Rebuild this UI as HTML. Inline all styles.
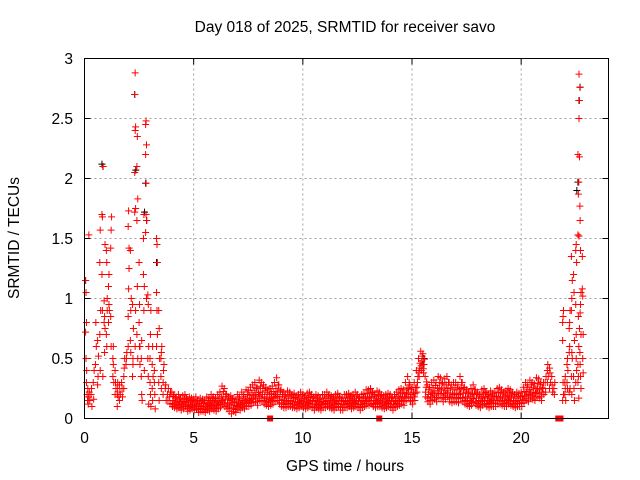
<!DOCTYPE html>
<html><head><meta charset="utf-8"><style>
body{margin:0;background:#fff}
svg{display:block;font-family:"Liberation Sans",sans-serif}
</style></head><body>
<svg id="chart" width="640" height="480" xmlns="http://www.w3.org/2000/svg">
<text x="345" y="32" font-size="15.5" text-anchor="middle">Day 018 of 2025, SRMTID for receiver savo</text>
<text x="345" y="471" font-size="15.5" text-anchor="middle">GPS time / hours</text>
<text x="19" y="238" font-size="15.5" text-anchor="middle" transform="rotate(-90 19 238)">SRMTID / TECUs</text>
<g id="grid"></g>
<g id="ticks"></g>
<g id="black"></g>
<g id="red"></g>
<rect x="84.5" y="58.5" width="524" height="360" fill="none" stroke="#000" stroke-width="1"/>
</svg>
<script>
const xTicks=[0,5,10,15,20];
const yTicks=[0,0.5,1,1.5,2,2.5,3];
const yTickLabels=["0","0.5","1","1.5","2","2.5","3"];
const baseStart=4.0, baseStep=0.1;
const baseHi=[.22,.2,.18,.2,.17,.19,.2,.16,.18,.17,
.16,.18,.15,.17,.16,.15,.18,.17,.2,.18,
.17,.2,.22,.27,.25,.2,.18,.19,.17,.16,
.2,.18,.22,.2,.24,.23,.26,.28,.3,.26,
.32,.3,.28,.26,.24,.25,.27,.3,.34,.28,
.24,.22,.2,.23,.22,.2,.21,.19,.2,.22,
.2,.19,.21,.22,.2,.18,.2,.19,.17,.2,
.2,.22,.2,.19,.18,.2,.21,.18,.17,.2,
.2,.21,.19,.2,.22,.2,.18,.2,.21,.24,
.24,.25,.22,.2,.23,.22,.2,.19,.2,.21,
.2,.18,.2,.22,.24,.25,.24,.3,.35,.28,
.26,.3,.4,.5,.56,.54,.35,.28,.26,.3,
.32,.3,.35,.34,.3,.33,.35,.3,.28,.3,
.3,.28,.35,.3,.26,.24,.22,.25,.28,.24,
.22,.2,.24,.25,.22,.2,.23,.21,.22,.25,
.26,.24,.22,.23,.25,.24,.22,.2,.22,.21,
.22,.26,.3,.28,.32,.3,.29,.34,.33,.3];
const baseMid=[.15,.14,.13,.14,.12,.13,.14,.11,.12,.12,
.11,.12,.1,.11,.1,.1,.12,.11,.13,.12,
.11,.13,.14,.18,.16,.13,.12,.13,.11,.1,
.13,.12,.14,.13,.16,.15,.17,.19,.2,.17,
.22,.2,.18,.17,.16,.17,.18,.2,.22,.18,
.16,.15,.14,.15,.15,.14,.14,.13,.14,.15,
.14,.13,.14,.15,.14,.12,.14,.13,.12,.14,
.14,.15,.14,.13,.12,.14,.15,.12,.12,.14,
.14,.15,.13,.14,.15,.14,.12,.14,.15,.17,
.17,.18,.15,.14,.16,.15,.14,.13,.14,.15,
.14,.12,.14,.15,.17,.18,.17,.21,.25,.2,
.18,.21,.3,.42,.48,.45,.26,.2,.18,.21,
.23,.21,.25,.24,.21,.23,.25,.21,.2,.21,
.21,.2,.25,.21,.18,.17,.15,.17,.2,.17,
.15,.14,.17,.18,.15,.14,.16,.15,.15,.18,
.18,.17,.15,.16,.18,.17,.15,.14,.15,.15,
.15,.19,.22,.2,.24,.22,.21,.25,.24,.22];
const baseLo=[.1,.09,.08,.09,.07,.08,.1,.06,.07,.08,
.07,.08,.05,.06,.06,.05,.07,.06,.08,.07,
.06,.08,.09,.12,.1,.08,.06,.04,.06,.05,
.08,.07,.09,.08,.1,.1,.11,.13,.14,.11,
.15,.14,.12,.11,.1,.11,.12,.14,.15,.12,
.1,.09,.09,.1,.1,.09,.09,.08,.09,.1,
.09,.08,.09,.1,.09,.07,.09,.08,.07,.09,
.09,.1,.09,.08,.07,.09,.1,.07,.07,.09,
.09,.1,.08,.09,.1,.09,.07,.09,.1,.11,
.11,.12,.1,.09,.1,.1,.09,.08,.09,.1,
.09,.07,.09,.1,.11,.12,.11,.15,.18,.14,
.12,.15,.22,.35,.4,.38,.18,.14,.12,.15,
.16,.14,.17,.17,.14,.16,.18,.14,.13,.14,
.14,.13,.17,.14,.12,.11,.1,.11,.13,.11,
.1,.09,.11,.12,.1,.09,.1,.1,.1,.12,
.12,.11,.1,.1,.12,.11,.1,.09,.1,.1,
.1,.13,.15,.14,.17,.16,.15,.18,.17,.15];
const burstHours=[0.05,0.1,0.15,0.2,0.3,0.4,0.5,0.6,0.7,0.8,0.9,1.0,1.1,1.2,1.3,1.4,1.5,1.6,1.7,1.8,1.9,2.0,2.1,2.2,2.3,2.4,2.5,2.6,2.7,2.8,2.9,3.0,3.1,3.2,3.3,3.4,3.5,3.6,3.7,3.8,3.9,
21.0,21.1,21.2,21.3,21.4,21.5,21.9,22.0,22.1,22.2,22.3,22.4,22.5,22.6,22.65,22.7,22.8];
const burstValues=[[1.15,1.05,0.8,0.72,0.5,0.3],[0.4,0.2,0.15],[0.25,0.12,0.18],[1.53,0.22,0.15],[0.2,0.25,0.1],[0.3,0.16,0.4],[0.45,0.8,0.6],[0.65,0.35,0.52,0.28],[1.3,1.57,0.9,0.7,0.4],[1.7,1.68,2.1,1.2,0.9,0.35],[0.98,0.55,1.45,0.8,0.85,0.75],[1.4,1.3,1.0,0.7,0.6,0.9],[1.1,1.2,0.9,0.8,0.95],[1.42,1.57,1.68,0.85,0.6],[0.5,0.45,0.3,0.35,0.6],[0.4,0.3,0.25,0.2],[0.2,0.25,0.18,0.1,0.3],[0.15,0.22,0.2,0.28],[0.3,0.25,0.18],[0.35,0.42,0.5,0.25],[0.45,0.5,0.55],[0.6,1.08,1.25,1.6,1.73,1.42,0.85],[0.65,0.9,1.0,1.4,0.55],[0.35,0.5,0.75,0.95,0.45],[2.05,2.4,2.43,2.7,2.88,1.75,1.72,0.6,0.9],[2.1,2.35,1.83,1.65,1.1,0.5,0.7],[0.8,0.6,0.45,1.3,0.95,0.6],[0.35,0.2,0.15,0.5,0.65],[1.5,1.7,1.1,1.2,0.9,0.4],[2.45,2.48,2.28,2.2,1.96,1.65,1.55,1.7,1.0],[1.03,0.95,0.6,0.5,0.35,0.12],[0.3,0.2,0.1,0.5,0.7,0.9],[0.25,0.15,0.35,0.45,0.6],[0.3,0.2,0.08,0.4],[1.5,1.45,1.3,1.05,0.9,0.7,0.6],[0.9,0.75,0.5,0.3,0.15],[0.5,0.55,0.6,0.35,0.25],[0.3,0.4,0.45,0.2],[0.25,0.28,0.15],[0.2,0.15,0.25],[0.18,0.12,0.22],
[0.25,0.3,0.2],[0.3,0.22,0.35],[0.4,0.45,0.35,0.3],[0.42,0.38,0.3,0.25],[0.35,0.28,0.22],[0.25,0.2,0.3],[0.8,0.85,0.9,0.65,0.3,0.2,0.15],[0.3,0.25,0.15,0.2,0.35],[0.45,0.5,0.4,0.3,0.25],[0.55,0.6,0.9,0.75,0.8,0.25,0.22],[0.9,1.0,1.15,1.35,0.55,0.5,0.35,0.2],[1.2,1.05,0.65,0.35,0.25,0.15],[1.4,1.45,1.3,0.95,0.7,0.4,0.3,0.5],[1.53,1.87,1.97,2.2,0.85,0.6,0.45,0.35,0.17,0.3],[2.5,2.65,2.76,2.87,2.18,1.77,1.52,0.75,0.55],[1.65,1.4,1.05,0.88,0.95,0.7,0.45,0.35,0.25],[1.35,1.02,0.7,1.08,0.5,0.38]];
const blackHours=[0.05,0.8,0.85,2.3,2.35,2.75,2.8,2.85,3.3,22.55,22.6,22.65,22.7,15.5,15.55];
const blackValues=[1.15,2.12,2.1,2.7,2.07,1.72,1.96,1.65,1.3,1.9,1.97,2.65,2.76,0.45,0.5];
const zeroHours=[8.5,13.5,21.7,21.75,21.8];

const NS="http://www.w3.org/2000/svg";
const X0=84.5,X1=608.5,Y0=418.5,Y1=58.5;
const xs=h=>X0+(h/24)*(X1-X0);
const ys=v=>Y0-(v/3)*(Y0-Y1);
function mk(tag,attrs,parent){const e=document.createElementNS(NS,tag);for(const k in attrs)e.setAttribute(k,attrs[k]);parent.appendChild(e);return e;}
const grid=document.getElementById('grid'),ticks=document.getElementById('ticks');
xTicks.forEach(t=>{
  const x=xs(t);
  if(t>0){const g=mk('line',{x1:x,x2:x,y1:Y1,y2:Y0,stroke:'#a0a0a0','stroke-dasharray':'2,3'},grid);
  
  }
  mk('line',{x1:x,x2:x,y1:Y0,y2:Y0-6,stroke:'#000'},ticks);
  mk('line',{x1:x,x2:x,y1:Y1,y2:Y1+6,stroke:'#000'},ticks);
  const l=mk('text',{x:x,y:443,'font-size':15.5,'text-anchor':'middle'},ticks);l.textContent=t;
  
  
});
yTicks.forEach((t,i)=>{
  const y=ys(t);
  if(t>0&&t<3){const g=mk('line',{x1:X0,x2:X1,y1:y,y2:y,stroke:'#a0a0a0','stroke-dasharray':'2,3'},grid);
  
  }
  mk('line',{x1:X0,x2:X0+6,y1:y,y2:y,stroke:'#000'},ticks);
  mk('line',{x1:X1,x2:X1-6,y1:y,y2:y,stroke:'#000'},ticks);
  const l=mk('text',{x:73,y:y+5.5,'font-size':15.5,'text-anchor':'end'},ticks);l.textContent=yTickLabels[i];
  
  
});
function plus(h,v,col,parent){
  const x=xs(h),y=ys(v);
  const p=mk('path',{d:`M${x-3.5} ${y}h7M${x} ${y-3.5}v7`,stroke:col,'stroke-width':1,fill:'none'},parent);
  
  
}
const black=document.getElementById('black'),red=document.getElementById('red');
blackHours.forEach((h,i)=>plus(h,blackValues[i],'#000',black));
baseHi.forEach((v,i)=>{const h=baseStart+i*baseStep;const m=baseMid[i],l=baseLo[i];
  plus(h,v,'#f00',red);plus(h+0.05,m,'#f00',red);plus(h+0.03,l,'#f00',red);
  plus(h+0.07,(v+m)/2,'#f00',red);plus(h+0.02,(m+l)/2,'#f00',red);});
burstHours.forEach((h,i)=>burstValues[i].forEach((v,j)=>plus(h+(j%3)*0.02,v,'#f00',red)));
zeroHours.forEach(h=>{const r=mk('rect',{x:xs(h)-3,y:Y0-3,width:6,height:6,fill:'#f00'},red);
  
  });
</script>
</body></html>
